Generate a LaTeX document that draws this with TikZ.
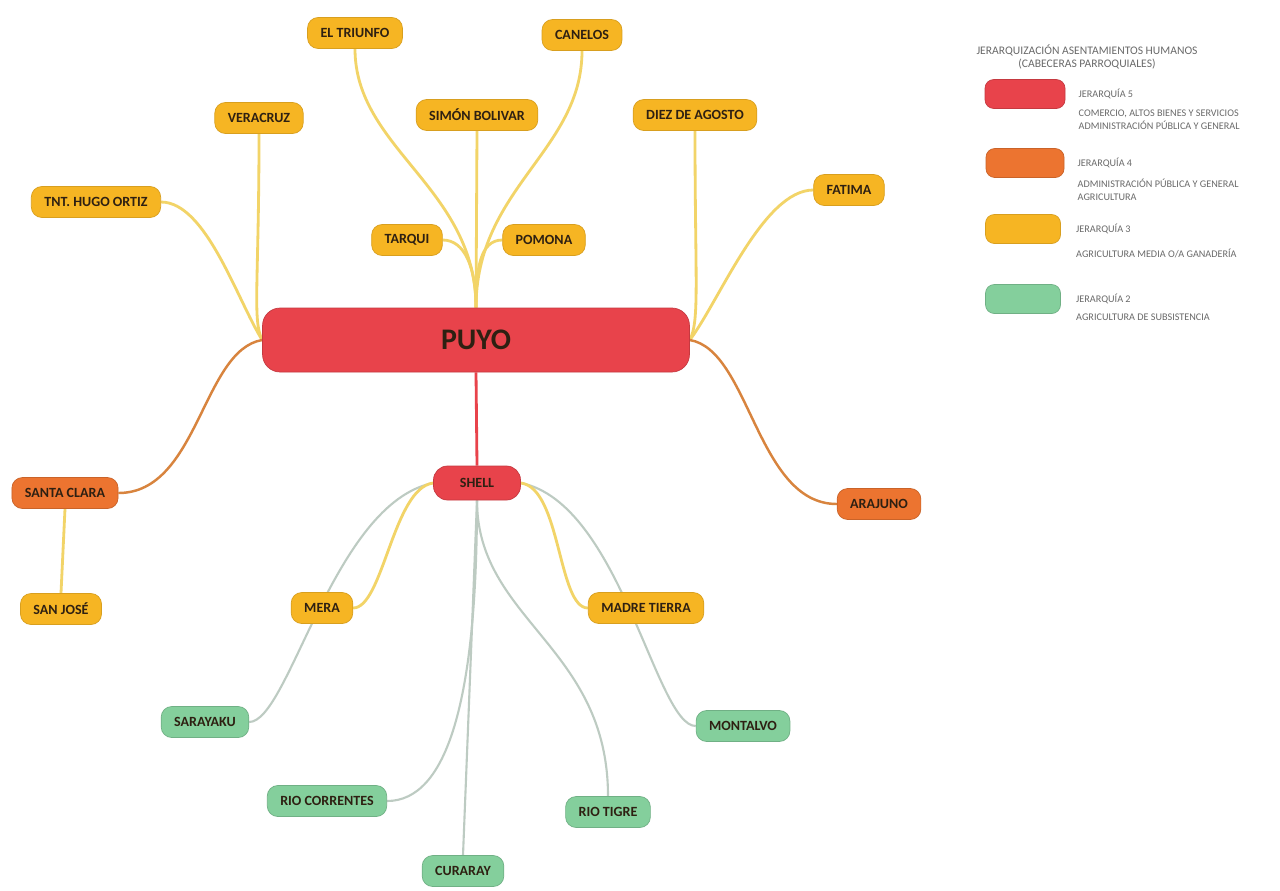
\documentclass[tikz,border=0pt]{standalone}
\usepackage{fontspec}
\setmainfont{Carlito}
\usepackage{xcolor}
\usetikzlibrary{positioning,backgrounds}
\definecolor{JerRed}{HTML}{E8434B}
\definecolor{JerOrange}{HTML}{EC7430}
\definecolor{JerYellow}{HTML}{F6B523}
\definecolor{JerGreen}{HTML}{84CF9C}
\definecolor{LinkYellow}{HTML}{F2D468}
\definecolor{LinkGrey}{HTML}{BDCBC2}
\definecolor{LinkOrange}{HTML}{D8843E}
\definecolor{LabelInk}{HTML}{2E2012}
\definecolor{NoteInk}{HTML}{6A6A6A}

\begin{document}
\begin{tikzpicture}[x=0.02cm,y=-0.02cm,
    place/.style={rounded corners=6pt,text=LabelInk,font=\fontsize{8}{9.5}\selectfont\bfseries,inner xsep=0.26cm,minimum height=0.62cm,line width=0.4pt},
    jer5/.style={place,fill=JerRed,draw=JerRed!85!black},
    jer4/.style={place,fill=JerOrange,draw=JerOrange!85!black},
    jer3/.style={place,fill=JerYellow,draw=JerYellow!88!black},
    jer2/.style={place,fill=JerGreen,draw=JerGreen!85!black},
    keybox/.style={rounded corners=5pt,line width=0.4pt,minimum height=0.58cm},
    note/.style={text=NoteInk,font=\fontsize{5.8}{7.2}\selectfont,inner sep=0pt,align=left},
    ylink/.style={LinkYellow,line width=1.6pt},
    olink/.style={LinkOrange,line width=1.4pt},
    glink/.style={LinkGrey,line width=1.2pt}]
  \useasboundingbox (0,0) rectangle (1280,890);

  % centres
  \node[jer5,minimum width=8.54cm,minimum height=1.28cm,rounded corners=10pt,font=\fontsize{17}{20}\selectfont\bfseries] (puyo) at (476,340) {PUYO};
  \node[jer5,minimum width=1.74cm,minimum height=0.68cm,rounded corners=8pt] (shell) at (477,483) {SHELL};

  % around Puyo
  \node[jer3] (tri) at (355,33) {EL TRIUNFO};
  \node[jer3] (can) at (582,35) {CANELOS};
  \node[jer3] (sim) at (477,115) {SIMÓN BOLIVAR};
  \node[jer3] (ver) at (259,118) {VERACRUZ};
  \node[jer3] (die) at (695,115) {DIEZ DE AGOSTO};
  \node[jer3] (hug) at (96,202) {TNT. HUGO ORTIZ};
  \node[jer3] (fat) at (849,190) {FATIMA};
  \node[jer3] (tar) at (407,240) {TARQUI};
  \node[jer3] (pom) at (544,240) {POMONA};
  \node[jer4] (scl) at (65,493) {SANTA CLARA};
  \node[jer4] (ara) at (879,504) {ARAJUNO};
  \node[jer3] (sjo) at (61,609) {SAN JOSÉ};

  % around Shell
  \node[jer3] (mer) at (322,608) {MERA};
  \node[jer3] (mad) at (646,608) {MADRE TIERRA};
  \node[jer2] (sar) at (205,722) {SARAYAKU};
  \node[jer2] (mon) at (743,726) {MONTALVO};
  \node[jer2] (rco) at (327,801) {RIO CORRENTES};
  \node[jer2] (rti) at (608,812) {RIO TIGRE};
  \node[jer2] (cur) at (463,871) {CURARAY};

  % links, behind the boxes
  \begin{scope}[on background layer]
    \fill[white] (0,0) rectangle (1280,890);
    \draw[ylink] (hug.east) .. controls +(45,0) and +(-25,-40) .. (puyo.west);
    \draw[ylink] (ver.south) .. controls +(0,150) and +(-10,-20) .. (puyo.west);
    \draw[olink] (puyo.west) .. controls +(-60,10) and +(80,0) .. (scl.east);
    \draw[ylink] (scl.south) -- (sjo.north);
    \draw[ylink] (tri.south) .. controls +(0,100) and +(0,-120) .. (puyo.north);
    \draw[ylink] (can.south) .. controls +(0,100) and +(0,-120) .. (puyo.north);
    \draw[ylink] (sim.south) -- (puyo.north);
    \draw[ylink] (tar.east) .. controls +(22,0) and +(0,-40) .. (puyo.north);
    \draw[ylink] (pom.west) .. controls +(-22,0) and +(0,-40) .. (puyo.north);
    \draw[ylink] (die.south) .. controls +(0,150) and +(10,-20) .. (puyo.east);
    \draw[ylink] (fat.west) .. controls +(-50,0) and +(30,-40) .. (puyo.east);
    \draw[olink] (puyo.east) .. controls +(60,10) and +(-80,0) .. (ara.west);
    \draw[JerRed,line width=1.6pt] (puyo.south) -- (shell.north);

    \draw[glink] (shell.west) .. controls +(-100,20) and +(40,0) .. (sar.east);
    \draw[ylink] (shell.west) .. controls +(-40,5) and +(30,0) .. (mer.east);
    \draw[glink] (shell.east) .. controls +(100,20) and +(-40,0) .. (mon.west);
    \draw[ylink] (shell.east) .. controls +(40,5) and +(-30,0) .. (mad.west);
    \draw[glink] (shell.south) .. controls +(0,200) and +(60,0) .. (rco.east);
    \draw[glink] (shell.south) -- (cur.north);
    \draw[glink] (shell.south) .. controls +(0,120) and +(0,-150) .. (rti.north);
  \end{scope}

  % legend
  \node[note,align=center,font=\fontsize{6.6}{7.8}\selectfont] (key) at (1087,57) {JERARQUIZACIÓN ASENTAMIENTOS HUMANOS\\(CABECERAS PARROQUIALES)};
  \node[keybox,fill=JerRed,draw=JerRed!85!black,minimum width=1.6cm] (k5) at (1025,94) {};
  \node[keybox,fill=JerOrange,draw=JerOrange!85!black,minimum width=1.56cm] (k4) at (1025,163) {};
  \node[keybox,fill=JerYellow,draw=JerYellow!88!black,minimum width=1.5cm] (k3) at (1023,229) {};
  \node[keybox,fill=JerGreen,draw=JerGreen!85!black,minimum width=1.5cm] (k2) at (1023,299) {};
  \node[note,right=0.26cm of k5] (k5t) {JERARQUÍA 5};
  \node[note,right=0.26cm of k4] (k4t) {JERARQUÍA 4};
  \node[note,right=0.3cm of k3] (k3t) {JERARQUÍA 3};
  \node[note,right=0.3cm of k2] (k2t) {JERARQUÍA 2};
  \node[note,anchor=north west] (k5d) at ([yshift=-6pt]k5t.south west) {COMERCIO, ALTOS BIENES Y SERVICIOS\\ADMINISTRACIÓN PÚBLICA Y GENERAL};
  \node[note,anchor=north west] (k4d) at ([yshift=-6pt]k4t.south west) {ADMINISTRACIÓN PÚBLICA Y GENERAL\\AGRICULTURA};
  \node[note,anchor=north west] (k3d) at ([yshift=-8pt]k3t.south west) {AGRICULTURA MEDIA O/A GANADERÍA};
  \node[note,anchor=north west] (k2d) at ([yshift=-5pt]k2t.south west) {AGRICULTURA DE SUBSISTENCIA};
\end{tikzpicture}
\end{document}
